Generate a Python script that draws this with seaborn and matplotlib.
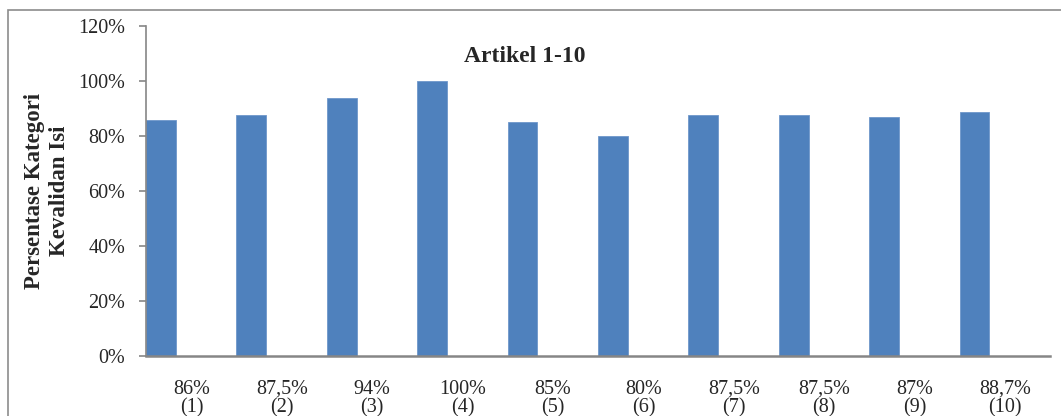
import matplotlib
matplotlib.use("Agg")
import matplotlib.pyplot as plt
from matplotlib.patches import Rectangle
import seaborn as sns
import pandas as pd
import numpy as np

# Content validity percentage per article
articles = ["(1)", "(2)", "(3)", "(4)", "(5)", "(6)", "(7)", "(8)", "(9)", "(10)"]
value_labels = ["86%", "87,5%", "94%", "100%", "85%", "80%", "87,5%", "87,5%", "87%", "88,7%"]
percentages = [86, 87.5, 94, 100, 85, 80, 87.5, 87.5, 87, 88.7]
y_ticks = [0, 20, 40, 60, 80, 100, 120]

sns.set_style("white")
plt.rcParams["font.family"] = ["Liberation Serif", "DejaVu Serif"]

df = pd.DataFrame({"artikel": articles, "persen": percentages})

fig = plt.figure(figsize=(10.61, 4.16), dpi=100)
ax = fig.add_axes([146 / 1061, 1 - 356 / 416, 904 / 1061, 330 / 416])

bar_w = 0.33
sns.barplot(data=df, x="artikel", y="persen", order=articles, color="#4F81BD",
            width=bar_w, saturation=1, ax=ax, edgecolor="#6F97CB", linewidth=0.6)

ax.set_xlim(-bar_w / 2, len(articles) - bar_w / 2)
ax.set_ylim(0, 120)
ax.set_yticks(y_ticks)
ax.set_yticklabels([f"{t}%" for t in y_ticks], fontsize=14.5)

ax.set_xticks(np.arange(len(articles)) + 0.338)
ax.set_xticklabels([f"{v}\n{a}" for v, a in zip(value_labels, articles)],
                   fontsize=14.5, linespacing=1.0)

ax.tick_params(axis="x", length=0, pad=17)
ax.tick_params(axis="y", length=5, width=1.2, color="#868686", pad=10, direction="out", left=True)

for side in ("top", "right"):
    ax.spines[side].set_visible(False)
ax.spines["left"].set_color("#868686")
ax.spines["left"].set_linewidth(1.2)
ax.spines["bottom"].set_color("#868686")
ax.spines["bottom"].set_linewidth(1.8)

ax.set_xlabel("")
ax.set_ylabel("")
fig.text(47 / 1061, 1 - 191 / 416, "Persentase Kategori\nKevalidan Isi", rotation=90,
         ha="center", va="center", fontsize=16.5, fontweight="bold", linespacing=1.25)

fig.text(525 / 1061, 1 - 57 / 416, "Artikel 1-10", ha="center", va="center",
         fontsize=17, fontweight="bold")

# Chart frame
fig.patches.append(Rectangle((8 / 1061, -0.2), 1.2, 1 - 10 / 416 + 0.2,
                             transform=fig.transFigure, fill=False,
                             edgecolor="#8C8C8C", linewidth=1.2, zorder=0))

fig.savefig("out.png", dpi=100)
